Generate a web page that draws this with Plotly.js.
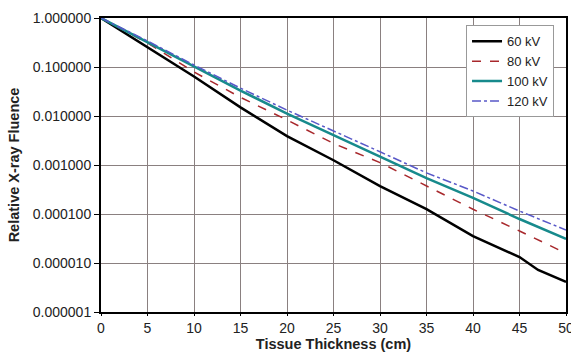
<!DOCTYPE html>
<html>
<head>
<meta charset="utf-8">
<script src="https://cdn.plot.ly/plotly-3.0.1.min.js"></script>
<style>body{margin:0;background:#fff}#chart{width:571px;height:354px}</style>
</head>
<body>
<div id="chart"></div>
<script>
// Tissue thickness (cm)
const thickness = [0, 5, 10, 15, 20, 25, 30, 35, 40, 45, 50];
const thickness60 = [0, 5, 10, 15, 20, 25, 30, 35, 40, 45, 47, 50];
// Relative X-ray fluence per tube voltage
const fluence60kV  = [1, 0.25, 0.064, 0.015, 0.0039, 0.00125, 0.00037, 0.000126, 0.0000355, 0.0000132, 0.0000072, 0.0000041];
const fluence80kV  = [1, 0.31, 0.079, 0.024, 0.0083, 0.00275, 0.00112, 0.00037, 0.000125, 0.000045, 0.0000158];
const fluence100kV = [1, 0.32, 0.102, 0.033, 0.0112, 0.0041, 0.00148, 0.00054, 0.000214, 0.000079, 0.000031];
const fluence120kV = [1, 0.34, 0.11, 0.037, 0.0132, 0.005, 0.00186, 0.00069, 0.000295, 0.000115, 0.000047];
const seriesNames = ["60 kV", "80 kV", "100 kV", "120 kV"];
const xTickVals = [0, 5, 10, 15, 20, 25, 30, 35, 40, 45, 50];
const yTickVals = [1, 0.1, 0.01, 0.001, 0.0001, 0.00001, 0.000001];
const yTickText = ["1.000000", "0.100000", "0.010000", "0.001000", "0.000100", "0.000010", "0.000001"];

const traces = [
  {x: thickness60, y: fluence60kV, name: seriesNames[0], mode: 'lines', line: {color: '#000000', width: 2.5}},
  {x: thickness, y: fluence80kV, name: seriesNames[1], mode: 'lines', line: {color: '#a8282c', width: 1.5, dash: 'dash'}},
  {x: thickness, y: fluence100kV, name: seriesNames[2], mode: 'lines', line: {color: '#178a8c', width: 2.5}},
  {x: thickness, y: fluence120kV, name: seriesNames[3], mode: 'lines', line: {color: '#5858c8', width: 1.5, dash: 'dashdot'}}
];

const layout = {
  width: 571, height: 354,
  margin: {l: 101, r: 5, t: 18, b: 42},
  paper_bgcolor: '#ffffff', plot_bgcolor: '#ffffff',
  font: {family: 'Liberation Sans, Arial, sans-serif', size: 14, color: '#222'},
  showlegend: true,
  legend: {x: 0.785, y: 0.975, xanchor: 'left', yanchor: 'top', bgcolor: '#ffffff', bordercolor: '#999', borderwidth: 1,
           font: {size: 13, color: '#222'}, itemwidth: 30, tracegroupgap: 0},
  xaxis: {
    range: [0, 50], tickmode: 'array', tickvals: xTickVals,
    showgrid: true, gridcolor: '#8a8080', gridwidth: 1,
    showline: true, linecolor: '#000', linewidth: 2, mirror: true,
    ticks: 'outside', ticklen: 2, tickcolor: '#000', zeroline: false,
    ticklabeloverflow: 'allow',
    tickfont: {size: 14, color: '#222'},
    title: {text: '<b>Tissue Thickness (cm)</b>', font: {size: 14.5, color: '#222'}, standoff: 0}
  },
  yaxis: {
    type: 'log', range: [-6, 0], tickmode: 'array', tickvals: yTickVals, ticktext: yTickText,
    showgrid: true, gridcolor: '#8a8080', gridwidth: 1,
    showline: true, linecolor: '#000', linewidth: 2, mirror: true,
    ticks: 'outside', ticklen: 5, tickcolor: '#000', zeroline: false,
    tickfont: {size: 14, color: '#222'},
    title: {text: '<b>Relative X-ray Fluence</b>', font: {size: 14.5, color: '#222'}, standoff: 10}
  }
};

Plotly.newPlot('chart', traces, layout, {displayModeBar: false, staticPlot: true});
</script>
</body>
</html>
